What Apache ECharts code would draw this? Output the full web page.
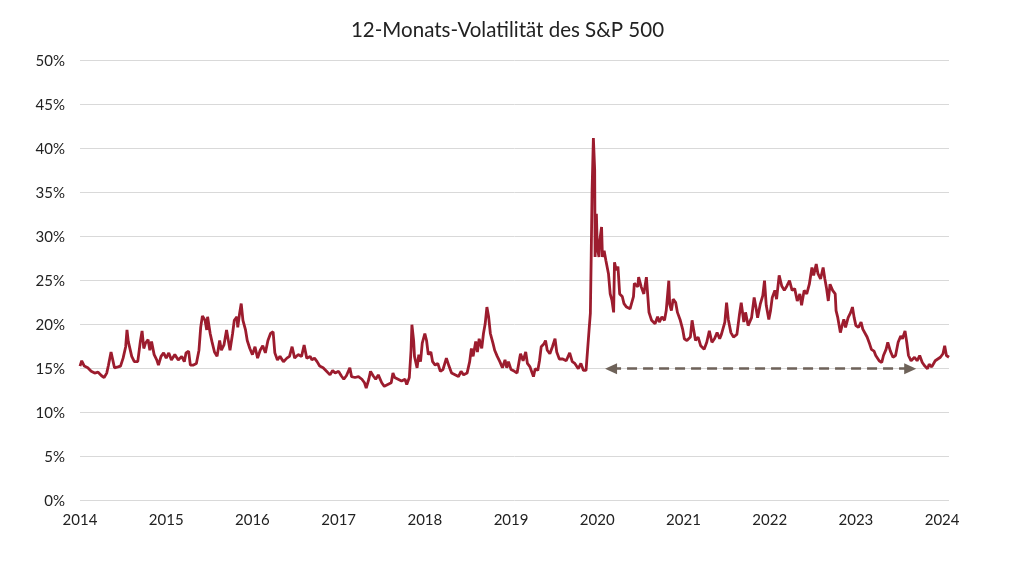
<!DOCTYPE html>
<html>
<head>
<meta charset="utf-8">
<script src="https://cdn.jsdelivr.net/npm/echarts@6/dist/echarts.min.js"></script>
<style>
  html, body { margin: 0; padding: 0; background: #fff; }
  #chart { width: 1015px; height: 580px; }
</style>
</head>
<body>
<div id="chart"></div>
<script>
// Zeitpunkte (Dezimaljahr) und 12-Monats-Volatilität in %
const dates = [
    2014.00, 2014.02, 2014.05, 2014.09, 2014.13, 2014.17, 2014.21, 2014.25, 2014.28, 2014.31,
    2014.33, 2014.36, 2014.38, 2014.40, 2014.44, 2014.47, 2014.50, 2014.53, 2014.545, 2014.56,
    2014.60, 2014.63, 2014.67, 2014.70, 2014.72, 2014.74, 2014.76, 2014.79, 2014.81, 2014.83,
    2014.86, 2014.89, 2014.91, 2014.94, 2014.97,
    2015.00, 2015.03, 2015.06, 2015.10, 2015.14, 2015.18, 2015.21, 2015.23, 2015.26, 2015.28,
    2015.31, 2015.35, 2015.38, 2015.40, 2015.42, 2015.45, 2015.47, 2015.48, 2015.51, 2015.53,
    2015.56, 2015.59, 2015.62, 2015.64, 2015.67, 2015.70, 2015.74, 2015.77, 2015.79, 2015.82,
    2015.83, 2015.85, 2015.87, 2015.89, 2015.92, 2015.94, 2015.97,
    2016.00, 2016.03, 2016.06, 2016.09, 2016.12, 2016.15, 2016.18, 2016.21, 2016.24, 2016.26,
    2016.29, 2016.32, 2016.36, 2016.40, 2016.43, 2016.46, 2016.49, 2016.53, 2016.57, 2016.60,
    2016.63, 2016.67, 2016.69, 2016.72, 2016.75, 2016.78, 2016.82, 2016.86, 2016.90, 2016.93,
    2016.96,
    2017.00, 2017.03, 2017.06, 2017.09, 2017.13, 2017.15, 2017.19, 2017.23, 2017.27, 2017.30,
    2017.32, 2017.35, 2017.37, 2017.40, 2017.43, 2017.46, 2017.50, 2017.53, 2017.57, 2017.61,
    2017.63, 2017.65, 2017.69, 2017.73, 2017.77, 2017.79, 2017.82, 2017.84, 2017.85, 2017.87,
    2017.88, 2017.91, 2017.93, 2017.95, 2017.97,
    2018.00, 2018.02, 2018.04, 2018.07, 2018.09, 2018.12, 2018.15, 2018.18, 2018.21, 2018.25,
    2018.28, 2018.31, 2018.35, 2018.39, 2018.42, 2018.45, 2018.49, 2018.52, 2018.54, 2018.56,
    2018.59, 2018.61, 2018.63, 2018.66, 2018.68, 2018.70, 2018.72, 2018.74, 2018.76, 2018.79,
    2018.81, 2018.84, 2018.87, 2018.90, 2018.93, 2018.95, 2018.97,
    2019.00, 2019.04, 2019.07, 2019.10, 2019.11, 2019.14, 2019.17, 2019.19, 2019.22, 2019.26,
    2019.28, 2019.31, 2019.33, 2019.35, 2019.38, 2019.40, 2019.42, 2019.45, 2019.48, 2019.51,
    2019.53, 2019.56, 2019.60, 2019.64, 2019.68, 2019.71, 2019.74, 2019.78, 2019.81, 2019.84,
    2019.87, 2019.89, 2019.905, 2019.92, 2019.93, 2019.94, 2019.955, 2019.97, 2019.975, 2019.99,
    2020.00, 2020.02, 2020.03, 2020.05, 2020.06, 2020.08, 2020.10, 2020.13, 2020.15, 2020.17,
    2020.19, 2020.20, 2020.22, 2020.24, 2020.26, 2020.29, 2020.31, 2020.34, 2020.38, 2020.42,
    2020.43, 2020.47, 2020.48, 2020.51, 2020.54, 2020.57, 2020.60, 2020.63, 2020.67, 2020.70,
    2020.72, 2020.75, 2020.78, 2020.80, 2020.83, 2020.84, 2020.86, 2020.88, 2020.91, 2020.93,
    2020.96, 2020.99,
    2021.01, 2021.04, 2021.08, 2021.10, 2021.12, 2021.14, 2021.17, 2021.20, 2021.24, 2021.27,
    2021.30, 2021.33, 2021.36, 2021.39, 2021.42, 2021.44, 2021.48, 2021.50, 2021.52, 2021.55,
    2021.58, 2021.62, 2021.65, 2021.67, 2021.70, 2021.72, 2021.75, 2021.79, 2021.82, 2021.84,
    2021.86, 2021.89, 2021.92, 2021.94, 2021.96, 2021.99,
    2022.01, 2022.03, 2022.06, 2022.08, 2022.11, 2022.14, 2022.17, 2022.20, 2022.23, 2022.26,
    2022.29, 2022.32, 2022.35, 2022.37, 2022.40, 2022.43, 2022.46, 2022.49, 2022.51, 2022.54,
    2022.56, 2022.59, 2022.62, 2022.64, 2022.66, 2022.68, 2022.70, 2022.73, 2022.76, 2022.77,
    2022.79, 2022.82, 2022.84, 2022.86, 2022.88, 2022.91, 2022.94, 2022.96, 2022.98,
    2023.00, 2023.03, 2023.06, 2023.08, 2023.10, 2023.13, 2023.16, 2023.18, 2023.21, 2023.23,
    2023.27, 2023.30, 2023.32, 2023.35, 2023.37, 2023.40, 2023.43, 2023.46, 2023.49, 2023.52,
    2023.54, 2023.57, 2023.59, 2023.61, 2023.64, 2023.68, 2023.71, 2023.74, 2023.77, 2023.80,
    2023.83, 2023.85, 2023.88, 2023.92, 2023.95, 2023.98,
    2024.01, 2024.03, 2024.05, 2024.08
];

const vols = [
    15.3, 15.9, 15.3, 15.1, 14.7, 14.5, 14.6, 14.2, 14.0, 14.5,
    15.4, 16.9, 16.0, 15.1, 15.2, 15.3, 16.2, 17.5, 19.4, 18.1,
    16.4, 15.8, 15.8, 18.1, 19.3, 17.3, 17.9, 18.3, 17.1, 18.1,
    16.6, 16.0, 15.4, 16.4, 16.8,
    16.2, 16.8, 16.0, 16.6, 16.0, 16.4, 15.8, 16.8, 17.0, 15.4,
    15.4, 15.6, 17.1, 19.7, 21.0, 20.5, 19.4, 20.9, 19.0, 18.1,
    16.9, 16.4, 18.2, 17.1, 17.7, 19.4, 17.1, 19.0, 20.5, 20.9,
    19.7, 21.2, 22.4, 20.5, 19.4, 18.2, 17.3,
    16.6, 17.5, 16.2, 17.1, 17.6, 16.8, 18.2, 19.0, 19.2, 16.8,
    16.0, 16.4, 15.8, 16.2, 16.4, 17.5, 16.2, 16.6, 16.4, 17.7,
    16.2, 16.4, 16.0, 16.2, 15.8, 15.3, 15.1, 14.7, 14.3, 14.8,
    14.5,
    14.7, 14.2, 13.8, 14.2, 15.1, 14.1, 14.0, 14.1, 13.8, 13.4,
    12.8, 13.8, 14.7, 14.2, 13.8, 14.3, 13.4, 13.0, 13.2, 13.4,
    14.5, 14.0, 13.8, 13.6, 13.8, 13.2, 14.0, 17.1, 20.0, 18.2,
    16.4, 15.1, 16.6, 15.8, 17.9,
    19.0, 18.2, 16.6, 16.9, 15.8, 15.4, 15.6, 14.7, 14.9, 16.2,
    15.3, 14.5, 14.3, 14.1, 14.7, 14.3, 14.5, 15.8, 17.3, 16.4,
    18.1, 16.9, 18.4, 17.3, 19.0, 20.1, 22.0, 20.9, 19.0, 17.9,
    17.1, 16.4, 15.8, 15.1, 16.0, 15.1, 15.8,
    14.9, 14.7, 14.5, 16.2, 16.7, 15.9, 16.9, 15.6, 15.2, 14.1,
    15.0, 14.8, 15.9, 17.5, 17.8, 18.2, 17.1, 16.7, 17.5, 18.4,
    16.9, 16.1, 16.1, 15.9, 16.8, 15.8, 15.6, 15.0, 15.6, 14.8,
    14.8, 14.8, 19.4, 21.3, 27.9, 35.3, 41.2, 37.6, 27.7, 32.6,
    28.8, 27.7, 29.6, 31.1, 27.7, 28.4, 27.3, 25.8, 23.5, 22.8,
    21.4, 27.1, 26.2, 26.6, 23.5, 23.2, 22.4, 22.0, 21.8, 23.2,
    24.7, 24.3, 25.4, 24.3, 23.5, 25.4, 21.4, 20.5, 20.1, 20.9,
    20.3, 20.9, 20.5, 21.6, 25.0, 22.3, 21.6, 22.9, 22.5, 21.4,
    20.6, 19.5,
    18.4, 18.2, 18.6, 20.5, 19.3, 18.2, 18.6, 17.6, 17.2, 18.0,
    19.3, 18.0, 18.4, 19.1, 18.4, 18.9, 20.3, 22.5, 20.6, 19.1,
    18.6, 18.9, 21.2, 22.5, 20.3, 21.4, 19.9, 20.8, 23.1, 22.0,
    20.8, 22.3, 23.3, 25.0, 22.2, 20.6,
    21.6, 23.1, 23.9, 22.9, 25.6, 24.4, 23.9, 24.4, 25.0, 23.9,
    24.1, 22.7, 23.5, 22.2, 23.9, 23.5, 24.6, 26.5, 25.6, 26.9,
    25.8, 25.2, 26.5, 25.2, 24.1, 22.7, 24.6, 23.9, 23.5, 21.6,
    20.8, 19.1, 19.9, 20.6, 19.7, 20.8, 21.4, 22.0, 20.8,
    19.9, 19.7, 20.3, 19.5, 19.3, 18.6, 17.8, 17.2, 17.0, 16.5,
    15.9, 15.7, 16.5, 17.2, 18.0, 17.0, 16.3, 16.5, 18.0, 18.7,
    18.4, 19.3, 18.0, 16.5, 15.9, 16.3, 15.9, 16.5, 15.7, 15.3,
    15.0, 15.5, 15.2, 15.9, 16.1, 16.3,
    16.7, 17.6, 16.5, 16.3
];

// gestrichelter Pfeil: Zeitraum seit Anfang 2020 bis Mitte 2023 auf 15 %
const arrowStart = [2020.16, 15];
const arrowEnd = [2023.63, 15];

const seriesData = dates.map((d, i) => [d, vols[i]]);

const chart = echarts.init(document.getElementById('chart'), null, { renderer: 'canvas' });

const option = {
    animation: false,
    title: {
        text: '12-Monats-Volatilität des S&P 500',
        left: 'center',
        top: 15,
        textStyle: {
            fontFamily: 'Lato',
            fontSize: 20.5,
            fontWeight: 'normal',
            color: '#222',
        },
    },
    grid: {
        left: 80,
        right: 66,
        top: 60.7,
        bottom: 79.3,
    },
    xAxis: {
        type: 'value',
        min: 2014,
        max: 2024.08,
        interval: 1,
        axisLine: { show: false },
        axisTick: { show: false },
        splitLine: { show: false },
        axisLabel: {
            margin: 12,
            fontFamily: 'Lato',
            fontSize: 15,
            color: '#222',
            showMaxLabel: false,
            formatter: v => (Math.abs(v - Math.round(v)) < 1e-6 ? String(Math.round(v)) : ''),
        },
    },
    yAxis: {
        type: 'value',
        min: 0,
        max: 50,
        interval: 5,
        axisLine: { show: false },
        axisTick: { show: false },
        splitLine: {
            lineStyle: { color: '#d9d9d9', width: 1 },
        },
        axisLabel: {
            margin: 15,
            fontFamily: 'Lato',
            fontSize: 15,
            color: '#222',
            formatter: '{value}%',
        },
    },
    series: [
        {
            name: 'Volatilität',
            type: 'line',
            data: seriesData,
            showSymbol: false,
            symbol: 'none',
            lineStyle: { color: '#9c1c2e', width: 2.8 },
            markLine: {
                silent: true,
                symbol: ['triangle', 'triangle'],
                symbolSize: [11, 12],
                label: { show: false },
                lineStyle: {
                    color: '#6e6259',
                    width: 2.5,
                    type: [10, 6],
                },
                data: [[{ coord: arrowStart }, { coord: arrowEnd }]],
            },
        },
    ],
};

chart.setOption(option);
</script>
</body>
</html>
